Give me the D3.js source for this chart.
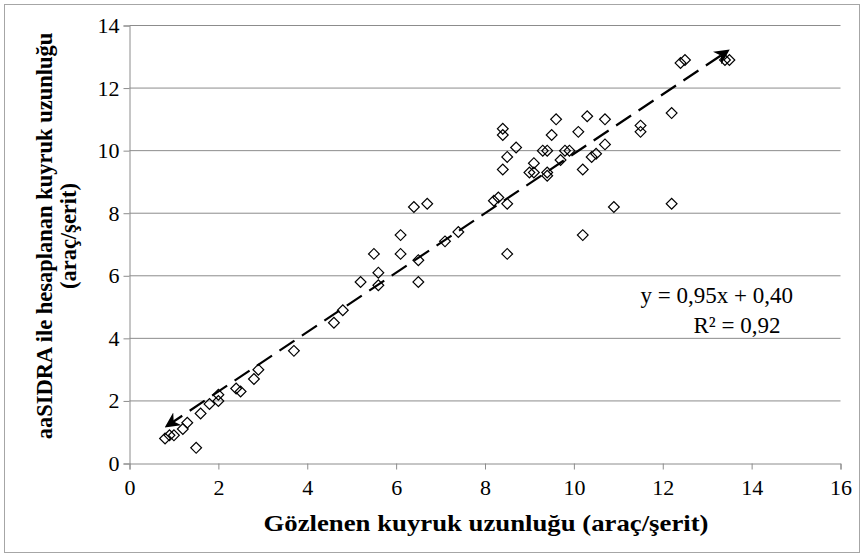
<!DOCTYPE html>
<html>
<head>
<meta charset="utf-8">
<script src="https://cdn.jsdelivr.net/npm/d3@7"></script>
<style>
body { margin: 0; background: #fff; }
text { font-family: "Liberation Serif", "Times New Roman", serif; }
</style>
</head>
<body>
<svg id="chart"></svg>
<script>
// observed vs aaSIDRA queue lengths
var observed = [0.8, 0.9, 1.0, 1.2, 1.3, 1.5, 1.6, 1.8, 2.0, 2.0, 2.4, 2.5, 2.8, 2.9, 3.7,
	4.6, 4.8, 5.2, 5.5, 5.6, 5.6, 6.1, 6.1, 6.4, 6.5, 6.5, 6.7, 7.1, 7.4,
	8.2, 8.3, 8.5, 8.5, 8.4, 8.4, 8.4, 8.5, 8.7, 9.0, 9.1, 9.1, 9.3, 9.4, 9.4, 9.4,
	9.5, 9.6, 9.7, 9.8, 9.9, 10.1, 10.2, 10.2, 10.3, 10.4, 10.5, 10.7, 10.7, 10.9,
	11.5, 11.5, 12.2, 12.2, 12.4, 12.5, 13.4, 13.5];
var computed = [0.8, 0.9, 0.9, 1.1, 1.3, 0.5, 1.6, 1.9, 2.0, 2.2, 2.4, 2.3, 2.7, 3.0, 3.6,
	4.5, 4.9, 5.8, 6.7, 5.7, 6.1, 6.7, 7.3, 8.2, 5.8, 6.5, 8.3, 7.1, 7.4,
	8.4, 8.5, 8.3, 6.7, 9.4, 10.5, 10.7, 9.8, 10.1, 9.3, 9.3, 9.6, 10.0, 10.0, 9.2, 9.3,
	10.5, 11.0, 9.7, 10.0, 10.0, 10.6, 9.4, 7.3, 11.1, 9.8, 9.9, 11.0, 10.2, 8.2,
	10.8, 10.6, 11.2, 8.3, 12.8, 12.9, 12.9, 12.9];
var xTicks = [0, 2, 4, 6, 8, 10, 12, 14, 16];
var yTicks = [0, 2, 4, 6, 8, 10, 12, 14];
var slope = 0.95, intercept = 0.40;
var trendRange = [0.85, 13.45];

var points = observed.map(function (d, i) { return { x: d, y: computed[i] }; });

const width = 864;
const height = 558;
var svg = d3.select("#chart").attr("width", width).attr("height", height);

// outer chart border
svg.append("rect")
	.attr("x", 4.5).attr("y", 4.5)
	.attr("width", 855).attr("height", 548)
	.attr("fill", "white")
	.attr("stroke", "#a6a6a6");

var x = d3.scaleLinear().domain([0, 16]).range([129.5, 840.5]);
var y = d3.scaleLinear().domain([0, 14]).range([463.5, 25.5]);

// horizontal gridlines
svg.append("g")
	.selectAll("line")
	.data(yTicks.slice(1))
	.enter()
	.append("line")
	.attr("x1", x(0)).attr("x2", x(16))
	.attr("y1", function (d) { return y(d); })
	.attr("y2", function (d) { return y(d); })
	.attr("stroke", "#8c8c8c")
	.attr("stroke-width", 1);

var xAxis = svg.append("g")
	.attr("transform", "translate(0," + y(0) + ")")
	.call(d3.axisBottom(x).tickValues(xTicks).tickSize(6).tickPadding(10));
var yAxis = svg.append("g")
	.attr("transform", "translate(" + x(0) + ",0)")
	.call(d3.axisLeft(y).tickValues(yTicks).tickSize(6).tickPadding(4));

[xAxis, yAxis].forEach(function (ax) {
	ax.select(".domain").attr("stroke", "#8c8c8c");
	ax.selectAll(".tick line").attr("stroke", "#8c8c8c");
	ax.selectAll("text")
		.attr("fill", "black")
		.style("font-family", "'Liberation Serif', serif")
		.style("font-size", "22px");
});

// trendline with arrows at both ends
svg.append("defs").append("marker")
	.attr("id", "arrow")
	.attr("viewBox", "0 0 10 10")
	.attr("refX", 8).attr("refY", 5)
	.attr("markerWidth", 7).attr("markerHeight", 7)
	.attr("markerUnits", "strokeWidth")
	.attr("orient", "auto-start-reverse")
	.append("path")
	.attr("d", "M0,0 L10,5 L0,10 L3,5 Z")
	.attr("fill", "black");

svg.append("line")
	.attr("x1", x(trendRange[0]))
	.attr("y1", y(slope * trendRange[0] + intercept))
	.attr("x2", x(trendRange[1]))
	.attr("y2", y(slope * trendRange[1] + intercept))
	.attr("stroke", "black")
	.attr("stroke-width", 2.2)
	.attr("stroke-dasharray", "18,9")
	.attr("marker-start", "url(#arrow)")
	.attr("marker-end", "url(#arrow)");

// diamonds
var diamond = d3.symbol().type(d3.symbolSquare).size(58);
svg.append("g")
	.selectAll("path")
	.data(points)
	.enter()
	.append("path")
	.attr("d", diamond)
	.attr("transform", function (d) {
		return "translate(" + x(d.x) + "," + y(d.y) + ") rotate(45)";
	})
	.attr("fill", "none")
	.attr("stroke", "black")
	.attr("stroke-width", 1.2);

// equation
svg.append("text")
	.attr("x", 793).attr("y", 303)
	.attr("text-anchor", "end")
	.style("font-size", "23px")
	.text("y = 0,95x + 0,40");
svg.append("text")
	.attr("x", 737).attr("y", 333)
	.attr("text-anchor", "middle")
	.style("font-size", "23px")
	.text("R² = 0,92");

// axis titles
svg.append("text")
	.attr("x", 486).attr("y", 531)
	.attr("text-anchor", "middle")
	.attr("textLength", 445)
	.attr("lengthAdjust", "spacingAndGlyphs")
	.style("font-size", "23px")
	.style("font-weight", "bold")
	.text("Gözlenen kuyruk uzunluğu (araç/şerit)");

var yTitle = svg.append("text")
	.attr("transform", "translate(52,236) rotate(-90)")
	.attr("text-anchor", "middle")
	.style("font-size", "22.5px")
	.style("font-weight", "bold");
yTitle.append("tspan").attr("x", 0).attr("dy", 0).text("aaSIDRA ile hesaplanan kuyruk uzunluğu");
yTitle.append("tspan").attr("x", 0).attr("dy", 24).text("(araç/şerit)");
</script>
</body>
</html>
